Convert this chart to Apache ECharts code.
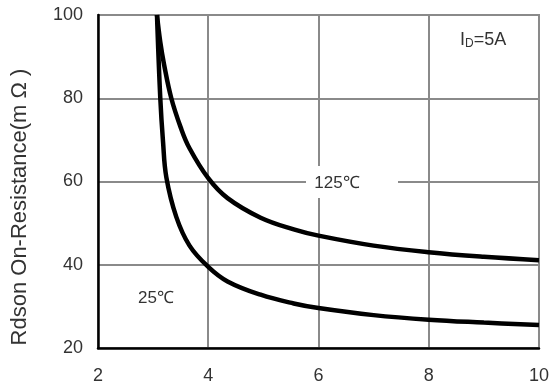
<!DOCTYPE html>
<html>
<head>
<meta charset="utf-8">
<script src="https://cdn.jsdelivr.net/npm/echarts@6/dist/echarts.min.js"></script>
<style>
    html, body { margin: 0; padding: 0; background: #fff; }
    #chart { width: 552px; height: 387px; }
</style>
</head>
<body>
<div id="chart"></div>
<script>
// 125℃ 曲线 (Vgs, Rdson)
const vgs125 = [3.07, 3.13, 3.2, 3.33, 3.5, 3.66, 4, 4.35, 4.95, 5.55, 6, 7, 8, 9, 10];
const rds125 = [100, 93.5, 88, 80, 73, 68, 60.8, 56, 51.3, 48.5, 47, 44.6, 43, 41.9, 41.1];
// 25℃ 曲线
const vgs25 = [3.07, 3.13, 3.18, 3.24, 3.42, 3.66, 4, 4.35, 4.95, 5.55, 6, 7, 8, 9, 10];
const rds25 = [100, 80, 69.5, 61, 51.5, 44.6, 39.5, 36, 32.8, 30.7, 29.6, 27.9, 26.8, 26.1, 25.5];
// 坐标轴刻度
const xTicks = [2, 4, 6, 8, 10];
const yTicks = [20, 40, 60, 80, 100];

const font = '"Liberation Sans", Arial, sans-serif';
const textColor = '#333';
const gridColor = '#8a8a8a';

function pairs(xs, ys) {
    return xs.map((x, i) => [x, ys[i]]);
}

let chart = echarts.init(document.getElementById('chart'));

let option = {
    animation: false,
    grid: {
        left: 98,
        top: 15,
        right: 10,
        bottom: 39,
        show: true,
        borderColor: gridColor,
        borderWidth: 2
    },
    xAxis: {
        type: 'value',
        min: xTicks[0],
        max: xTicks[xTicks.length - 1],
        interval: 2,
        axisLine: { lineStyle: { color: '#000', width: 2.5 } },
        axisTick: { show: false },
        axisLabel: { color: textColor, fontSize: 18, fontFamily: font, margin: 19 },
        splitLine: { show: true, lineStyle: { color: gridColor, width: 2 } }
    },
    yAxis: {
        type: 'value',
        min: yTicks[0],
        max: yTicks[yTicks.length - 1],
        interval: 20,
        axisLine: { show: true, lineStyle: { color: '#000', width: 2.5 } },
        axisTick: { show: false },
        axisLabel: { color: textColor, fontSize: 18, fontFamily: font, margin: 15 },
        splitLine: { show: true, lineStyle: { color: gridColor, width: 2 } }
    },
    series: [
        {
            name: '125℃',
            type: 'line',
            data: pairs(vgs125, rds125),
            smooth: 0.4,
            showSymbol: false,
            lineStyle: { color: '#000', width: 4.5 },
            z: 3
        },
        {
            name: '25℃',
            type: 'line',
            data: pairs(vgs25, rds25),
            smooth: 0.4,
            showSymbol: false,
            lineStyle: { color: '#000', width: 4.5 },
            z: 3
        }
    ],
    graphic: [
        {
            type: 'text',
            x: 20,
            y: 207,
            rotation: Math.PI / 2,
            style: {
                text: 'Rdson On-Resistance(m Ω )',
                font: '22px ' + font,
                fill: textColor,
                align: 'center',
                verticalAlign: 'middle'
            }
        },
        {
            type: 'rect',
            shape: { x: 306, y: 166, width: 92, height: 32 },
            style: { fill: '#fff' },
            z: 10
        },
        {
            type: 'text',
            x: 337,
            y: 183,
            z: 11,
            style: {
                text: '125℃',
                font: '17px ' + font,
                fill: textColor,
                align: 'center',
                verticalAlign: 'middle'
            }
        },
        {
            type: 'text',
            x: 156,
            y: 298,
            z: 11,
            style: {
                text: '25℃',
                font: '17px ' + font,
                fill: textColor,
                align: 'center',
                verticalAlign: 'middle'
            }
        },
        {
            type: 'text',
            x: 460,
            y: 40,
            z: 11,
            style: {
                text: '{i|I}{d|D}{i|=5A}',
                align: 'left',
                verticalAlign: 'middle',
                rich: {
                    i: { font: '18px ' + font, fill: textColor, color: textColor },
                    d: { font: '12px ' + font, fill: textColor, color: textColor, padding: [8, 0, 0, 0] }
                }
            }
        }
    ]
};

chart.setOption(option);
</script>
</body>
</html>
